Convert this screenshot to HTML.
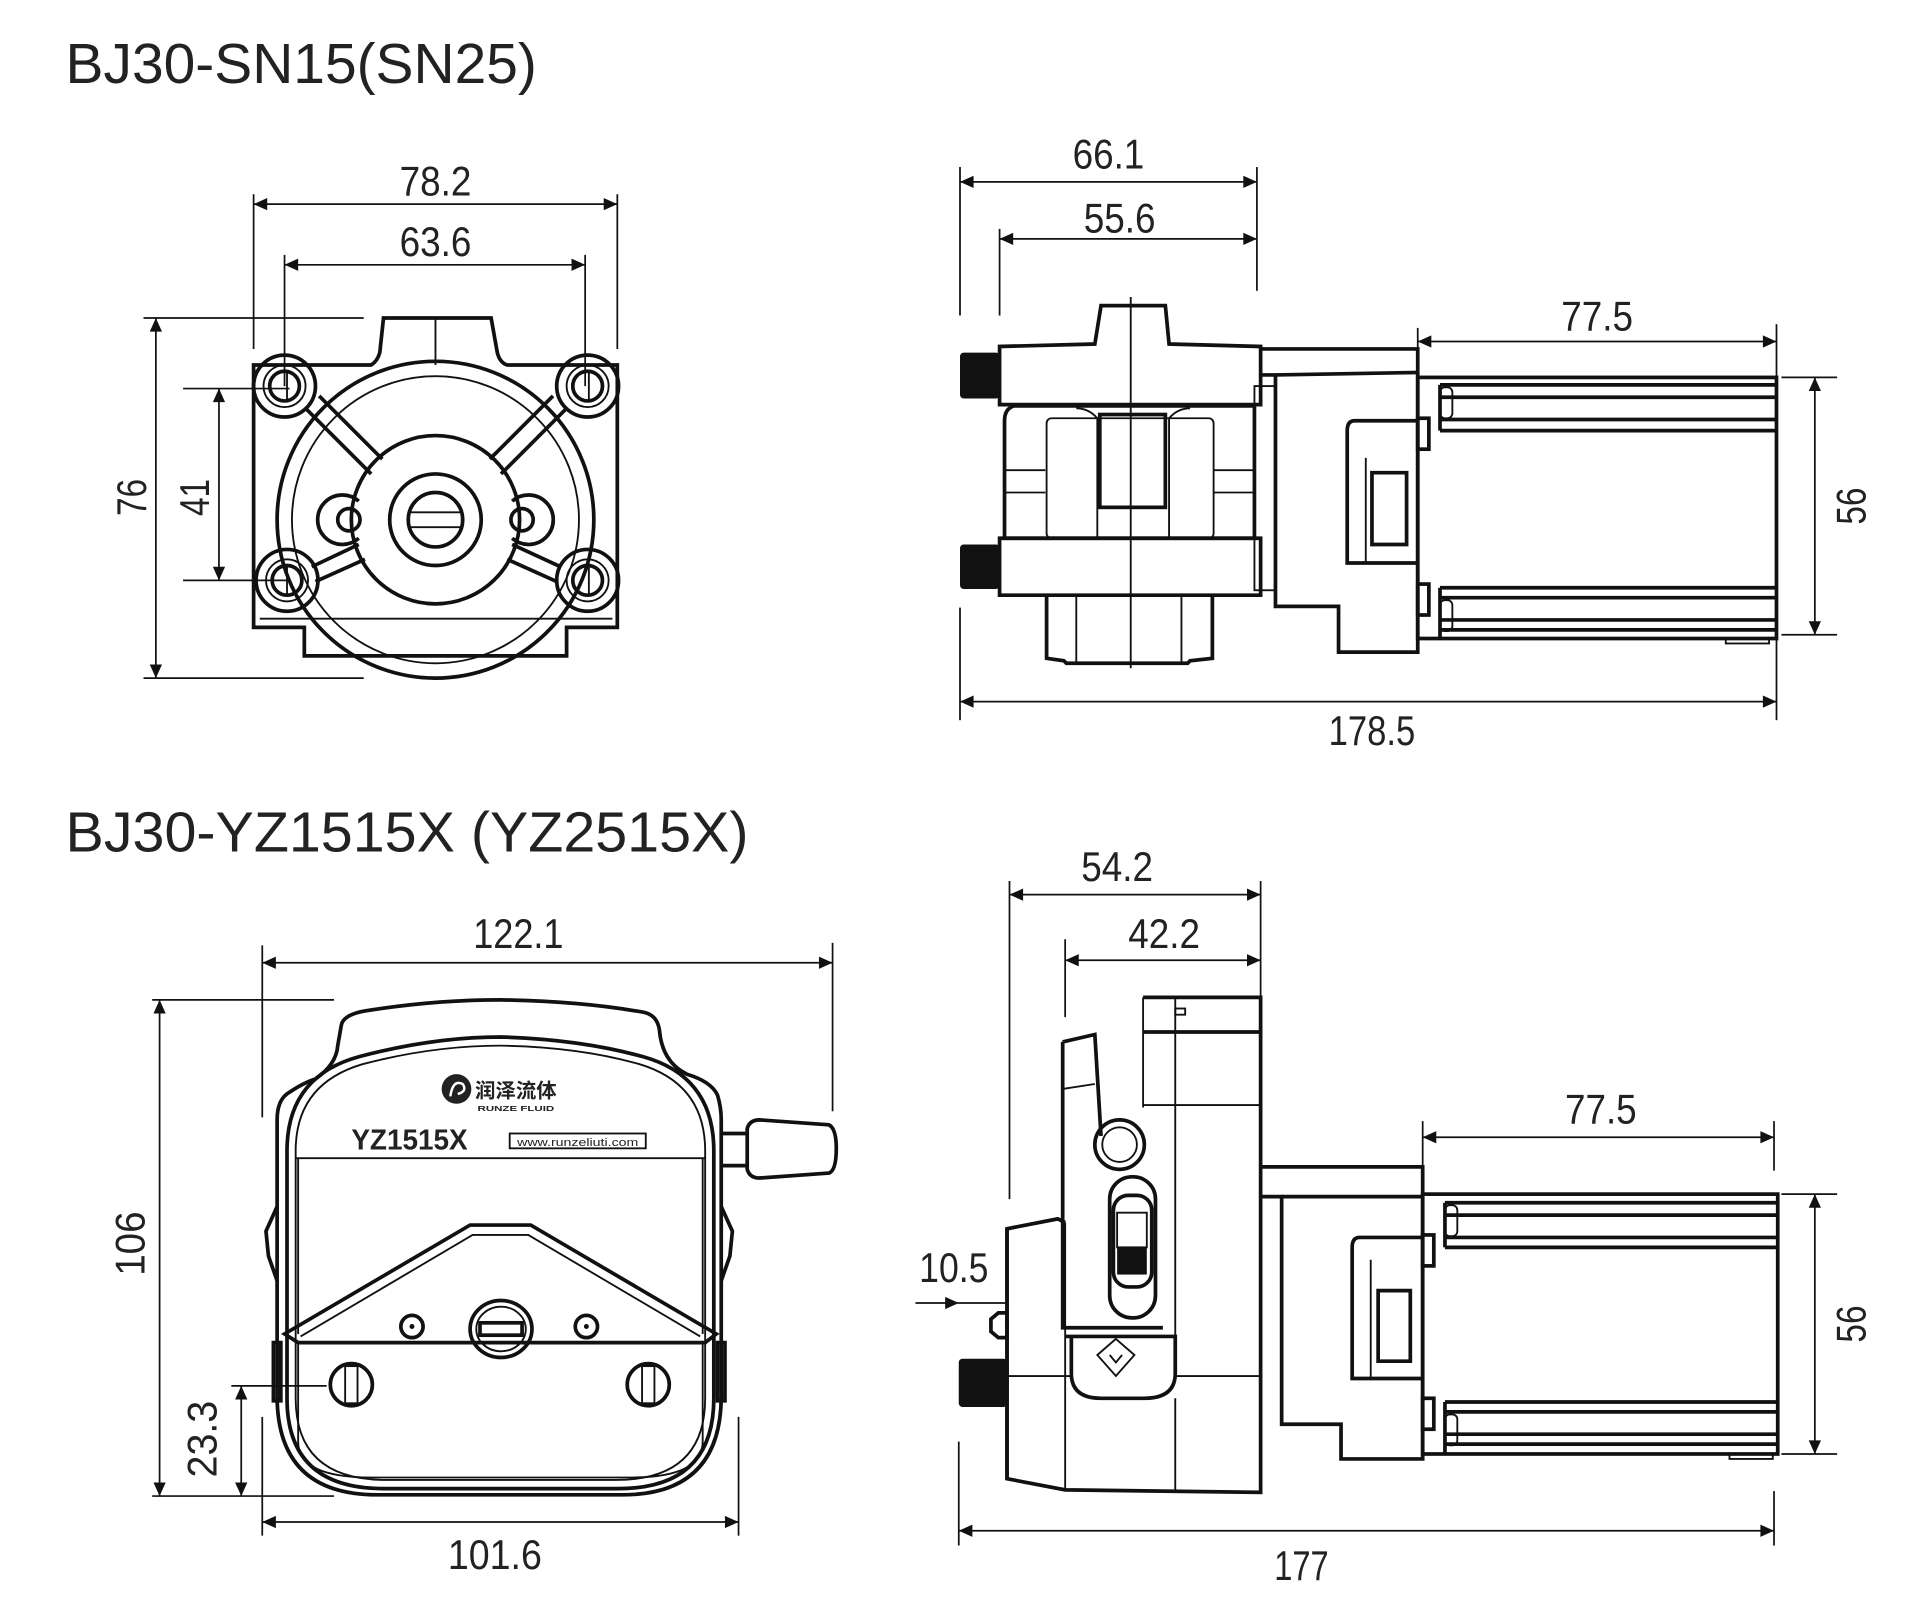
<!DOCTYPE html>
<html><head><meta charset="utf-8"><style>
html,body{margin:0;padding:0;background:#fff;}
svg{display:block;width:1920px;height:1600px;}
text{font-family:"Liberation Sans","DejaVu Sans",sans-serif;fill:#222;}
.d{font-size:34px;font-family:"Liberation Sans Narrow","Liberation Sans",sans-serif;}
.o{fill:none;stroke:#111;stroke-width:3;}
.t{fill:none;stroke:#111;stroke-width:1.5;}
.dl{fill:none;stroke:#111;stroke-width:1.4;}
</style></head><body>
<svg viewBox="0 0 1552 1293" preserveAspectRatio="none" xmlns="http://www.w3.org/2000/svg">
<defs>
<marker id="a" viewBox="0 0 10 10" refX="10" refY="5" markerWidth="22" markerHeight="11" markerUnits="userSpaceOnUse" orient="auto-start-reverse"><path d="M0,0.5 L10,5 L0,9.5 z" fill="#111"/></marker>
</defs>
<rect width="1552" height="1293" fill="#fff"/>
<text x="53" y="67" font-size="46" fill="#333" textLength="381" lengthAdjust="spacingAndGlyphs">BJ30-SN15(SN25)</text>
<text x="53" y="688" font-size="46" fill="#333" textLength="552" lengthAdjust="spacingAndGlyphs">BJ30-YZ1515X (YZ2515X)</text>

<!-- ===== TOP LEFT front view ===== -->
<g>
<line class="dl" x1="205" y1="157" x2="205" y2="282"/><line class="dl" x1="499" y1="157" x2="499" y2="282"/>
<line class="dl" x1="205" y1="165" x2="499" y2="165" marker-start="url(#a)" marker-end="url(#a)"/>
<text class="d" x="352" y="158" text-anchor="middle" textLength="58" lengthAdjust="spacingAndGlyphs">78.2</text>
<line class="dl" x1="230" y1="206" x2="230" y2="312"/><line class="dl" x1="473" y1="206" x2="473" y2="312"/>
<line class="dl" x1="230" y1="214" x2="473" y2="214" marker-start="url(#a)" marker-end="url(#a)"/>
<text class="d" x="352" y="207" text-anchor="middle" textLength="58" lengthAdjust="spacingAndGlyphs">63.6</text>
<line class="dl" x1="116" y1="257" x2="294" y2="257"/><line class="dl" x1="116" y1="548" x2="294" y2="548"/>
<line class="dl" x1="126" y1="257" x2="126" y2="548" marker-start="url(#a)" marker-end="url(#a)"/>
<text class="d" transform="translate(118,402) rotate(-90)" text-anchor="middle" textLength="30" lengthAdjust="spacingAndGlyphs">76</text>
<line class="dl" x1="148" y1="314" x2="234" y2="314"/><line class="dl" x1="148" y1="469" x2="234" y2="469"/>
<line class="dl" x1="177" y1="314" x2="177" y2="469" marker-start="url(#a)" marker-end="url(#a)"/>
<text class="d" transform="translate(169,402) rotate(-90)" text-anchor="middle" textLength="30" lengthAdjust="spacingAndGlyphs">41</text>
<path class="o" d="M205,295 L300,295 Q305,292 307,285 L310,257 L397,257 L402,285 Q404,293 410,295 L499,295 L499,507 L458,507 L458,530 L246,530 L246,507 L205,507 Z"/>
<line class="t" x1="210" y1="500" x2="495" y2="500"/>
<line class="t" x1="352" y1="257" x2="352" y2="295"/>
<circle class="o" cx="352" cy="420" r="128" fill="#fff"/>
<circle class="t" cx="352" cy="420" r="116"/>
<circle class="o" cx="352" cy="420" r="68"/>
<circle class="o" cx="352" cy="420" r="37"/>
<circle class="o" cx="352" cy="420" r="22"/>
<line class="t" x1="332" y1="414" x2="372" y2="414"/><line class="t" x1="332" y1="426" x2="372" y2="426"/>
<path class="o" d="M290,405 a20,20 0 1,0 0,30" /><path class="o" d="M414,405 a20,20 0 1,1 0,30"/>
<circle class="o" cx="282" cy="420" r="9"/><circle class="o" cx="422" cy="420" r="9"/>
<path class="o" d="M247,330 L300,383 M258,320 L309,371 M458,330 L405,383 M447,320 L396,371"/>
<path class="o" d="M252,458 L290,440 M255,470 L295,452 M453,458 L414,440 M450,470 L410,452"/>
<g fill="#fff">
<circle class="o" cx="230" cy="312" r="25" fill="#fff"/><circle class="t" cx="230" cy="312" r="17"/><circle class="o" cx="230" cy="312" r="12"/>
<circle class="o" cx="475" cy="312" r="25" fill="#fff"/><circle class="t" cx="475" cy="312" r="17"/><circle class="o" cx="475" cy="312" r="12"/>
<circle class="o" cx="232" cy="469" r="25" fill="#fff"/><circle class="t" cx="232" cy="469" r="17"/><circle class="o" cx="232" cy="469" r="12"/>
<circle class="o" cx="475" cy="469" r="25" fill="#fff"/><circle class="t" cx="475" cy="469" r="17"/><circle class="o" cx="475" cy="469" r="12"/>
</g>
<line class="t" x1="232" y1="300" x2="232" y2="325"/><line class="t" x1="476" y1="300" x2="476" y2="325"/>
<line class="t" x1="232" y1="457" x2="232" y2="482"/><line class="t" x1="476" y1="457" x2="476" y2="482"/>
</g>

<!-- ===== TOP RIGHT side view ===== -->
<g>
<line class="dl" x1="776" y1="135" x2="776" y2="255"/><line class="dl" x1="1016" y1="135" x2="1016" y2="235"/>
<line class="dl" x1="776" y1="147" x2="1016" y2="147" marker-start="url(#a)" marker-end="url(#a)"/>
<text class="d" x="896" y="136" text-anchor="middle" textLength="58" lengthAdjust="spacingAndGlyphs">66.1</text>
<line class="dl" x1="808" y1="185" x2="808" y2="255"/>
<line class="dl" x1="808" y1="193" x2="1016" y2="193" marker-start="url(#a)" marker-end="url(#a)"/>
<text class="d" x="905" y="188" text-anchor="middle" textLength="58" lengthAdjust="spacingAndGlyphs">55.6</text>
<line class="dl" x1="1146" y1="265" x2="1146" y2="282"/><line class="dl" x1="1436" y1="262" x2="1436" y2="305"/>
<line class="dl" x1="1146" y1="276" x2="1436" y2="276" marker-start="url(#a)" marker-end="url(#a)"/>
<text class="d" x="1291" y="267" text-anchor="middle" textLength="58" lengthAdjust="spacingAndGlyphs">77.5</text>
<line class="dl" x1="1440" y1="305" x2="1485" y2="305"/><line class="dl" x1="1440" y1="513" x2="1485" y2="513"/>
<line class="dl" x1="1467" y1="305" x2="1467" y2="513" marker-start="url(#a)" marker-end="url(#a)"/>
<text class="d" transform="translate(1508,409) rotate(-90)" text-anchor="middle" textLength="30" lengthAdjust="spacingAndGlyphs">56</text>
<line class="dl" x1="776" y1="491" x2="776" y2="582"/><line class="dl" x1="1436" y1="516" x2="1436" y2="582"/>
<line class="dl" x1="776" y1="567" x2="1436" y2="567" marker-start="url(#a)" marker-end="url(#a)"/>
<text class="d" x="1109" y="602" text-anchor="middle" textLength="70" lengthAdjust="spacingAndGlyphs">178.5</text>
<!-- pump head -->
<path class="o" d="M885,278 L890,247 L942,247 L945,278 L1019,280 L1019,327 L808,327 L808,280 Z"/>
<path class="o" d="M808,435 L1019,435 L1019,481 L808,481 Z"/>
<path class="o" d="M812,340 Q812,330 820,328 L1014,328 L1014,435 L812,435 Z"/>
<line class="t" x1="812" y1="380" x2="845" y2="380"/><line class="t" x1="981" y1="380" x2="1014" y2="380"/>
<line class="t" x1="812" y1="398" x2="845" y2="398"/><line class="t" x1="981" y1="398" x2="1014" y2="398"/>
<rect class="t" x="846" y="338" width="135" height="97" rx="4"/>
<path class="t" d="M870,330 Q880,330 887,338 L887,435 M962,330 Q952,330 945,338 L945,435"/>
<rect class="o" x="889" y="335" width="53" height="75"/>
<path class="o" d="M846,481 L846,532 L860,534 L862,536 L960,536 L962,534 L980,532 L980,481"/>
<line class="t" x1="870" y1="481" x2="870" y2="536"/><line class="t" x1="955" y1="481" x2="955" y2="536"/>
<line class="t" x1="914" y1="240" x2="914" y2="540"/>
<rect fill="#111" x="776" y="285" width="32" height="37" rx="3"/>
<rect fill="#111" x="776" y="440" width="32" height="36" rx="3"/>
<rect class="t" x="1014" y="312" width="17" height="165"/>
<!-- coupler -->
<path class="o" d="M1019,282 L1146,282 L1146,527 L1082,527 L1082,490 L1031,490 L1031,303 L1019,303"/>
<line class="o" x1="1031" y1="303" x2="1146" y2="301"/>
<path class="o" d="M1146,340 L1095,340 Q1089,340 1089,348 L1089,455 L1146,455"/>
<path class="o" d="M1109,382 L1137,382 L1137,440 L1109,440 Z"/>
<line class="t" x1="1104" y1="370" x2="1104" y2="455"/>
<rect class="o" x="1146" y="338" width="9" height="25"/><rect class="o" x="1146" y="472" width="9" height="25"/>
<!-- motor -->
<rect class="o" x="1146" y="305" width="290" height="211"/>
<line class="o" x1="1164" y1="311" x2="1436" y2="311"/><line class="o" x1="1164" y1="321" x2="1436" y2="321"/>
<line class="o" x1="1164" y1="339" x2="1436" y2="339"/><line class="o" x1="1164" y1="348" x2="1436" y2="348"/>
<line class="o" x1="1164" y1="475" x2="1436" y2="475"/><line class="o" x1="1164" y1="483" x2="1436" y2="483"/>
<line class="o" x1="1164" y1="501" x2="1436" y2="501"/><line class="o" x1="1164" y1="509" x2="1436" y2="509"/>
<line class="o" x1="1164" y1="311" x2="1164" y2="348"/><line class="o" x1="1164" y1="475" x2="1164" y2="516"/>
<rect class="t" x="1164" y="313" width="10" height="25" rx="4"/><rect class="t" x="1164" y="485" width="10" height="25" rx="4"/>
<rect class="t" x="1395" y="516" width="35" height="4"/>
</g>

<!-- ===== BOTTOM LEFT front view ===== -->
<g>
<line class="dl" x1="212" y1="764" x2="212" y2="903"/><line class="dl" x1="673" y1="762" x2="673" y2="898"/>
<line class="dl" x1="212" y1="778" x2="673" y2="778" marker-start="url(#a)" marker-end="url(#a)"/>
<text class="d" x="419" y="766" text-anchor="middle" textLength="73" lengthAdjust="spacingAndGlyphs">122.1</text>
<line class="dl" x1="123" y1="808" x2="270" y2="808"/><line class="dl" x1="123" y1="1209" x2="270" y2="1209"/>
<line class="dl" x1="129" y1="808" x2="129" y2="1209" marker-start="url(#a)" marker-end="url(#a)"/>
<text class="d" transform="translate(117,1005) rotate(-90)" text-anchor="middle" textLength="52" lengthAdjust="spacingAndGlyphs">106</text>
<line class="dl" x1="187" y1="1120" x2="264" y2="1120"/>
<line class="dl" x1="195" y1="1120" x2="195" y2="1209" marker-start="url(#a)" marker-end="url(#a)"/>
<text class="d" transform="translate(175,1163) rotate(-90)" text-anchor="middle" textLength="62" lengthAdjust="spacingAndGlyphs">23.3</text>
<line class="dl" x1="212" y1="1145" x2="212" y2="1241"/><line class="dl" x1="597" y1="1145" x2="597" y2="1241"/>
<line class="dl" x1="212" y1="1230" x2="597" y2="1230" marker-start="url(#a)" marker-end="url(#a)"/>
<text class="d" x="400" y="1268" text-anchor="middle" textLength="76" lengthAdjust="spacingAndGlyphs">101.6</text>
<!-- outer -->
<path class="o" d="M276,828 Q278,820 295,817 Q350,808 405,808 Q470,809 520,818 Q531,820 533,832 Q535,858 555,868 Q575,874 580,885 Q583,895 583,905 L583,1128 Q583,1208 503,1208 L305,1208 Q224,1208 224,1128 L224,905 Q224,890 232,884 Q245,875 255,872 Q272,860 273,845 Z"/>
<path class="o" d="M232,930 Q232,870 290,854 Q350,838 405,838 Q470,840 520,854 Q577,870 577,930 L577,1130 Q577,1203 500,1203 L310,1203 Q232,1203 232,1130 Z"/>
<path class="t" d="M239,930 Q239,876 293,860 Q350,845 405,845 Q468,846 517,860 Q570,876 570,930 L570,1130 Q570,1196 498,1196 L312,1196 Q239,1196 239,1130 Z"/>
<line class="t" x1="239" y1="936" x2="570" y2="936"/>
<line class="t" x1="241" y1="936" x2="241" y2="1078"/><line class="t" x1="568" y1="936" x2="568" y2="1078"/>
<!-- rotor cover -->
<path class="o" d="M230,1078 L380,990 L429,990 L579,1078 L570,1085 L241,1085 Z" fill="#fff"/>
<path class="t" d="M243,1080 L382,998 L427,998 L566,1080"/>
<path class="t" d="M241,1085 L241,1165 Q241,1194 300,1194 L510,1194 Q568,1194 568,1165 L568,1085"/>
<rect class="o" x="221" y="1085" width="6" height="47"/>
<rect class="o" x="580" y="1085" width="6" height="47"/>
<path class="o" d="M224,975 L215,995 L217,1015 L224,1035 M583,975 L592,995 L590,1015 L583,1035"/>
<ellipse class="o" cx="405" cy="1074" rx="25" ry="23"/><ellipse class="t" cx="405" cy="1074" rx="20" ry="18"/>
<rect class="o" x="388" y="1069" width="34" height="10"/>
<circle class="o" cx="333" cy="1072" r="9"/><circle cx="333" cy="1072" r="2" fill="#111"/>
<circle class="o" cx="474" cy="1072" r="9"/><circle cx="474" cy="1072" r="2" fill="#111"/>
<circle class="o" cx="284" cy="1119" r="17"/><rect class="t" x="279" y="1104" width="10" height="30"/>
<circle class="o" cx="524" cy="1119" r="17"/><rect class="t" x="519" y="1104" width="10" height="30"/>
<!-- handle -->
<path class="o" d="M583,916 L604,916 M583,942 L604,942"/>
<path class="o" d="M604,912 Q606,905 614,905 L670,909 Q676,912 676,928 Q676,946 670,948 L614,952 Q606,952 604,945 Z"/>
<!-- labels -->
<circle cx="369" cy="880" r="12" fill="#222"/>
<path d="M364,886 Q366,872 374,876 Q378,882 370,884" fill="none" stroke="#fff" stroke-width="2"/>
<text x="384" y="887" font-size="16" font-weight="bold" style='font-family:"Noto Sans CJK SC","WenQuanYi Zen Hei",sans-serif' textLength="66" lengthAdjust="spacingAndGlyphs">润泽流体</text>
<text x="386" y="898" font-size="6" font-weight="bold" textLength="62" lengthAdjust="spacingAndGlyphs">RUNZE FLUID</text>
<text x="284" y="929" font-size="23" font-weight="bold" textLength="94" lengthAdjust="spacingAndGlyphs">YZ1515X</text>
<rect class="t" x="412" y="916" width="110" height="12"/>
<text x="418" y="926" font-size="9" textLength="98" lengthAdjust="spacingAndGlyphs">www.runzeliuti.com</text>
</g>

<!-- ===== BOTTOM RIGHT side view ===== -->
<g>
<line class="dl" x1="816" y1="712" x2="816" y2="969"/><line class="dl" x1="1019" y1="712" x2="1019" y2="806"/>
<line class="dl" x1="816" y1="723" x2="1019" y2="723" marker-start="url(#a)" marker-end="url(#a)"/>
<text class="d" x="903" y="712" text-anchor="middle" textLength="58" lengthAdjust="spacingAndGlyphs">54.2</text>
<line class="dl" x1="861" y1="759" x2="861" y2="822"/>
<line class="dl" x1="861" y1="776" x2="1019" y2="776" marker-start="url(#a)" marker-end="url(#a)"/>
<text class="d" x="941" y="766" text-anchor="middle" textLength="58" lengthAdjust="spacingAndGlyphs">42.2</text>
<line class="dl" x1="1150" y1="906" x2="1150" y2="946"/><line class="dl" x1="1434" y1="906" x2="1434" y2="946"/>
<line class="dl" x1="1150" y1="919" x2="1434" y2="919" marker-start="url(#a)" marker-end="url(#a)"/>
<text class="d" x="1294" y="908" text-anchor="middle" textLength="58" lengthAdjust="spacingAndGlyphs">77.5</text>
<line class="dl" x1="1440" y1="965" x2="1485" y2="965"/><line class="dl" x1="1440" y1="1175" x2="1485" y2="1175"/>
<line class="dl" x1="1467" y1="965" x2="1467" y2="1175" marker-start="url(#a)" marker-end="url(#a)"/>
<text class="d" transform="translate(1508,1070) rotate(-90)" text-anchor="middle" textLength="30" lengthAdjust="spacingAndGlyphs">56</text>
<line class="dl" x1="775" y1="1165" x2="775" y2="1249"/><line class="dl" x1="1434" y1="1205" x2="1434" y2="1249"/>
<line class="dl" x1="775" y1="1237" x2="1434" y2="1237" marker-start="url(#a)" marker-end="url(#a)"/>
<text class="d" x="1052" y="1277" text-anchor="middle" textLength="44" lengthAdjust="spacingAndGlyphs">177</text>
<line class="dl" x1="775" y1="1053" x2="814" y2="1053"/>
<line class="dl" x1="740" y1="1053" x2="775" y2="1053" marker-end="url(#a)"/>
<text class="d" x="771" y="1036" text-anchor="middle" textLength="56" lengthAdjust="spacingAndGlyphs">10.5</text>
<!-- head block -->
<path class="o" d="M924,806 L1019,806 L1019,1206 L861,1204 L814,1195 L814,993 L855,985 L861,988"/>
<line class="t" x1="924" y1="806" x2="924" y2="895"/>
<line class="o" x1="924" y1="834" x2="1019" y2="834"/>
<line class="t" x1="924" y1="893" x2="1019" y2="893"/>
<line class="t" x1="950" y1="806" x2="950" y2="1112"/>
<line class="t" x1="950" y1="1130" x2="950" y2="1206"/>
<rect class="t" x="950" y="815" width="8" height="5"/>
<path class="o" d="M859,842 L885,836 L890,918 M859,842 L859,1073 L940,1073"/>
<line class="t" x1="859" y1="880" x2="885" y2="876"/>
<circle class="o" cx="905" cy="925" r="20"/><circle class="t" cx="905" cy="925" r="14"/>
<rect class="o" x="897" y="951" width="37" height="114" rx="18"/>
<rect class="o" x="900" y="966" width="31" height="74" rx="12"/>
<rect fill="#111" x="903" y="1008" width="24" height="22"/>
<rect class="t" x="903" y="980" width="24" height="28"/>
<path class="o" d="M861,1080 L950,1080 L950,1110 Q950,1130 925,1130 L890,1130 Q866,1130 866,1110 L866,1080"/>
<path class="t" d="M902,1082 L917,1095 L902,1112 L887,1095 Z M897,1095 L902,1101 L907,1095"/>
<line class="t" x1="814" y1="1112" x2="866" y2="1112"/>
<line class="t" x1="950" y1="1112" x2="1019" y2="1112"/>
<line class="t" x1="861" y1="988" x2="861" y2="1204"/>
<path class="o" d="M814,993 L814,1195"/>
<rect fill="#111" x="775" y="1098" width="39" height="39" rx="3"/>
<path class="o" d="M801,1066 L807,1061 L814,1061 L814,1081 L807,1081 L801,1076 Z"/>
<!-- coupler -->
<path class="o" d="M1019,943 L1150,943 L1150,1179 L1084,1179 L1084,1151 L1036,1151 L1036,967 L1019,967"/>
<line class="o" x1="1036" y1="967" x2="1150" y2="967"/>
<path class="o" d="M1150,1000 L1099,1000 Q1093,1000 1093,1008 L1093,1114 L1150,1114"/>
<path class="o" d="M1114,1043 L1140,1043 L1140,1100 L1114,1100 Z"/>
<line class="t" x1="1108" y1="1018" x2="1108" y2="1114"/>
<rect class="o" x="1150" y="998" width="9" height="25"/><rect class="o" x="1150" y="1130" width="9" height="25"/>
<!-- motor -->
<rect class="o" x="1150" y="965" width="287" height="210"/>
<line class="o" x1="1168" y1="972" x2="1437" y2="972"/><line class="o" x1="1168" y1="982" x2="1437" y2="982"/>
<line class="o" x1="1168" y1="1000" x2="1437" y2="1000"/><line class="o" x1="1168" y1="1008" x2="1437" y2="1008"/>
<line class="o" x1="1168" y1="1133" x2="1437" y2="1133"/><line class="o" x1="1168" y1="1141" x2="1437" y2="1141"/>
<line class="o" x1="1168" y1="1159" x2="1437" y2="1159"/><line class="o" x1="1168" y1="1167" x2="1437" y2="1167"/>
<line class="o" x1="1168" y1="972" x2="1168" y2="1008"/><line class="o" x1="1168" y1="1133" x2="1168" y2="1175"/>
<rect class="t" x="1168" y="974" width="10" height="25" rx="4"/><rect class="t" x="1168" y="1143" width="10" height="25" rx="4"/>
<rect class="t" x="1398" y="1175" width="35" height="4"/>
</g>
</svg>
</body></html>
